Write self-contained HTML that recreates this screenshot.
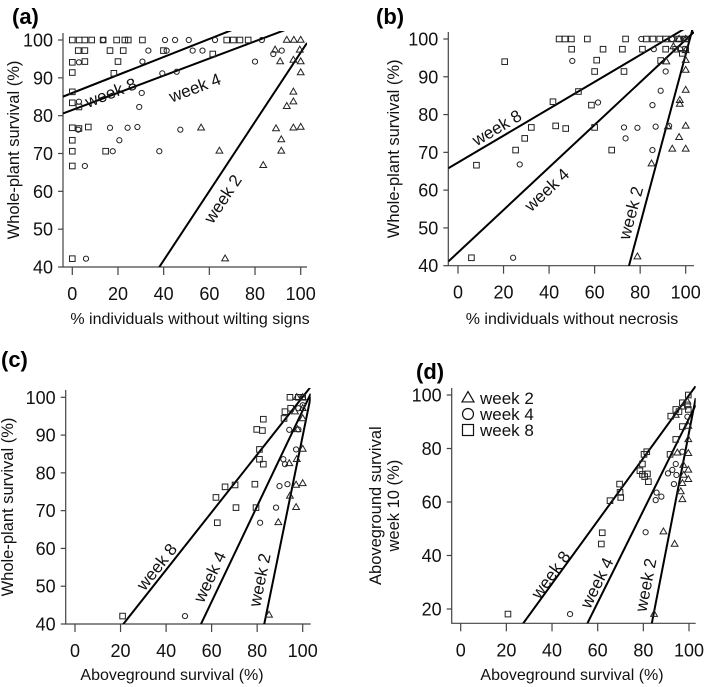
<!DOCTYPE html>
<html><head><meta charset="utf-8"><style>
html,body{margin:0;padding:0;background:#fff;overflow:hidden;}
svg{display:block;font-family:"Liberation Sans",Arial,sans-serif;}
</style></head><body>
<svg id="fig" width="709" height="687" viewBox="0 0 709 687" xmlns="http://www.w3.org/2000/svg"></svg>
<script>
// ---- data ----
const a_sq_x=[0,3,5.5,8.5,13.5,19.4,23,24.5,30.7,67.6,70.5,73.4,77,2.6,5.5,16.5,22.3,39.9,61.5,0,5.5,20,0,18.2,0,0,2.9,0,2.9,7,0,0,14.6,0,0];
const a_sq_y=[100,100,100,100,100,100,100,100,100,100,100,100,100,97.2,97.2,97.2,97.2,97.2,96.3,94.1,94.3,94.3,91.4,91.2,86.3,83.4,82.3,76.8,76.6,77,73.5,70.6,70.6,66.7,42.2];
const a_ci_x=[45,51,62.5,83,40.6,13.5,33.3,41.3,52.7,57,91.7,88,2.9,30.7,80,39.4,45.7,30.4,2.9,29.3,2.6,16.5,24.2,28.5,47.3,20.6,17.7,38.1,5.5,6];
const a_ci_y=[100,100,100,100,100,100,97.2,97.2,97.2,97.2,97.2,96.3,94.1,94.3,94.3,91.2,91.6,86,83.7,82.3,76.3,76.8,76.8,77,76.3,73.5,70.6,70.6,66.7,42.2];
const a_tr_x=[93.9,97,100,99.6,88.8,91,96.8,100,100,96.8,93.9,96.8,56.4,89.2,96.8,100,91.5,91.5,64.4,83.6,66.9];
const a_tr_y=[100,100,100,97.4,97.4,94.3,94.7,94.3,91.4,86.3,82.5,83.7,76.8,76.6,76.8,77,73.7,70.7,70.7,66.9,42.2];

const b_sq_x=[44.4,47,49.8,56.8,73.6,82.7,85.6,88.6,91.2,94.1,97.1,100,49.9,63.7,72.2,81,91.2,95.6,100,20.5,60.9,89,98.5,60,72.9,52.9,41.7,58.6,32.2,42.9,47.3,60,29.3,25.3,67.5,8.1,5.9];
const b_sq_y=[100,100,100,100,100,100,100,100,100,100,100,100,97.3,97.3,97.3,97.3,97.3,97.3,97.3,94,94.4,94.3,96.2,91.4,91.4,86.1,83.4,82.5,76.6,77,76.3,76.6,73.7,70.6,70.6,66.6,42.1];
const b_ci_x=[50.2,61.5,80.5,86,94,99,97.5,91.2,89,85.4,72.9,78.8,86.8,92.7,73.6,85.4,27.1,24.2];
const b_ci_y=[94.2,83.2,100,97.3,100,100,97.3,91.4,86.3,82.5,76.6,76.5,76.8,77,73.7,70.6,66.8,42.1];
const b_tr_x=[94.6,97.1,100,100,91.5,100,100,100,97.4,97.4,92.2,100,97.1,94.1,100,85,78.8];
const b_tr_y=[98,100,100,97,94,94.4,91.8,86.5,83.8,82.8,76.8,77,74,70.9,70.9,67,42.4];

const c_sq_x=[94.4,98.1,100,94.7,92.2,91.8,82.7,79.8,82.3,81,81,82.7,61.9,65.9,70.3,79,70.7,79.5,62.5,20.9];
const c_sq_y=[100,100,100,97.1,96.2,94.4,94.2,91.5,91.2,86.2,83.6,82.3,73.5,76.3,76.8,77,70.8,70.8,66.8,42.1];
const c_ci_x=[94.1,98.1,97.1,91.5,92.2,89.8,93.3,88.3,81.3,48.3,98.1,100];
const c_ci_y=[91.4,91.5,86.2,83.6,82.3,76.5,77,70.8,66.8,42.1,97.1,97.9];
const c_tr_x=[97.4,100,96.6,100,100,97.7,100,94.1,97.4,97.1,100,94.4,97.1,89.3,85.2];
const c_tr_y=[100,100,96.2,97.1,94.4,91.5,86.3,82.5,83.6,76.8,77.2,73.9,70.9,66.9,42.4];

const d_sq_x=[99.7,97.1,94.2,92,99.7,97.1,94.2,91.7,81.5,80.3,79.6,78.5,79.6,81.8,80.6,82.2,69.6,69.8,70.1,65.4,62,61.6,20.7,99.3,95.6];
const d_sq_y=[100,97.1,94.6,92.1,94.6,88.2,83.4,77.8,78.8,77.8,74.2,71.7,70.3,70.5,69.5,67.6,66.7,63.6,61.7,60.5,48.5,44.3,18.1,96.3,93.8];
const d_ci_x=[94.2,92.7,90.8,94.5,93.4,85.8,87.9,85.4,81,47.9,97.1,99.3];
const d_ci_y=[74.2,72,70.7,70.1,66.7,63.5,62,60.7,48.7,18.1,78.8,91.9];
const d_tr_x=[99.3,97.4,94.2,99.7,99.7,94.9,99.7,97.5,99.7,97.7,99.7,97.1,96.4,97.1,88.8,93.7,84.7];
const d_tr_y=[97.5,95.6,92.5,88.4,83.4,78.4,78.2,73.8,72,70.1,68.5,67,63.9,61,48.9,44.3,18.1];

// regression lines: intercept and slope for week 2, 4, 8
const a_fit_int=[5.1,81.5,86];   const a_fit_slope=[0.916,0.227,0.238];
const b_fit_int=[-128.6,43.5,67.3]; const b_fit_slope=[2.245,0.563,0.356];
const c_fit_int=[-205.2,-30,23.8]; const c_fit_slope=[2.95,1.265,0.763];
const d_fit_int=[-352,-80.8,-17.5]; const d_fit_slope=[4.38,1.72,1.174];

const xTicks=[0,20,40,60,80,100];
const yTicksABC=[40,50,60,70,80,90,100];
const yTicksD=[20,40,60,80,100];
const fitNames=['week 2','week 4','week 8'];

// ---- drawing ----
const NS='http://www.w3.org/2000/svg';
const svg=document.getElementById('fig');
function mk(tag,attrs,parent){const e=document.createElementNS(NS,tag);for(const k in attrs)e.setAttribute(k,attrs[k]);(parent||svg).appendChild(e);return e;}

const panels=[
 {id:'a',lab:'(a)',labX:12,labY:24,px0:72.3,px100:300.7,axL:63,axR:307,yv1:100,py1:40,yv2:40,py2:267,axT:33,axB:267,yt:yTicksABC,
  sq:[a_sq_x,a_sq_y],ci:[a_ci_x,a_ci_y],tr:[a_tr_x,a_tr_y],fi:a_fit_int,fs:a_fit_slope,
  xt:'% individuals without wilting signs',xtX:190,xtY:324,ytl:['Whole-plant survival (%)'],ytX:[14],
  fl:[[223,199],[195,88],[111,93]]},
 {id:'b',lab:'(b)',labX:376,labY:24,px0:458,px100:685.7,axL:448.3,axR:694,yv1:100,py1:39,yv2:40,py2:265.7,axT:32,axB:265.7,yt:yTicksABC,
  sq:[b_sq_x,b_sq_y],ci:[b_ci_x,b_ci_y],tr:[b_tr_x,b_tr_y],fi:b_fit_int,fs:b_fit_slope,
  xt:'% individuals without necrosis',xtX:572,xtY:324,ytl:['Whole-plant survival (%)'],ytX:[394],
  fl:[[631,213],[547,190],[497,128]]},
 {id:'c',lab:'(c)',labX:1,labY:367,px0:75,px100:302.7,axL:65.7,axR:310.7,yv1:100,py1:397.3,yv2:40,py2:624,axT:390,axB:624,yt:yTicksABC,
  sq:[c_sq_x,c_sq_y],ci:[c_ci_x,c_ci_y],tr:[c_tr_x,c_tr_y],fi:c_fit_int,fs:c_fit_slope,
  xt:'Aboveground survival (%)',xtX:172,xtY:680,ytl:['Whole-plant survival (%)'],ytX:[8],
  fl:[[260,580],[210,577],[157,567]]},
 {id:'d',lab:'(d)',labX:416,labY:379,px0:460.7,px100:689,axL:451.7,axR:695.7,yv1:100,py1:395,yv2:20,py2:609,axT:388,axB:623.3,yt:yTicksD,
  sq:[d_sq_x,d_sq_y],ci:[d_ci_x,d_ci_y],tr:[d_tr_x,d_tr_y],fi:d_fit_int,fs:d_fit_slope,
  xt:'Aboveground survival (%)',xtX:572,xtY:680,ytl:['Aboveground survival','week 10 (%)'],ytX:[376,394],
  fl:[[646,585],[597,583],[551,575]]}
];

panels.forEach(p=>{
  const sx=v=>p.px0+(v/100)*(p.px100-p.px0);
  const sy=v=>p.py1+(v-p.yv1)*(p.py2-p.py1)/(p.yv2-p.yv1);
  const ix=px=>(px-p.px0)/(p.px100-p.px0)*100;
  const g=mk('g',{});
  
  
  const t=mk('text',{x:p.labX,y:p.labY,'font-size':22,'font-weight':'bold'},g);t.textContent=p.lab;
  
  const ax=mk('path',{d:`M${p.axL},${p.axT}V${p.axB}H${p.axR}`,fill:'none',stroke:'#444','stroke-width':1.2},g);
  
  xTicks.forEach(v=>{
    const x=sx(v);
    mk('line',{x1:x,x2:x,y1:p.axB,y2:p.axB+8,stroke:'#444','stroke-width':1.2},g);
    const tt=mk('text',{x:x,y:p.axB+33,'font-size':18,'text-anchor':'middle',fill:'#111'},g);tt.textContent=v;
    
  });
  p.yt.forEach(v=>{
    const y=sy(v);
    mk('line',{x1:p.axL-5,x2:p.axL,y1:y,y2:y,stroke:'#444','stroke-width':1.2},g);
    const tt=mk('text',{x:p.axL-10,y:y+6.5,'font-size':18,'text-anchor':'end',fill:'#111'},g);tt.textContent=v;
    
  });
  const xt=mk('text',{x:p.xtX,y:p.xtY,'font-size':16,'text-anchor':'middle',fill:'#111'},g);xt.textContent=p.xt;
  
  const cy=(p.axT+p.axB)/2;
  p.ytl.forEach((s,i)=>{
    const yt=mk('text',{x:p.ytX[i],y:cy,'font-size':16.5,'text-anchor':'middle','dominant-baseline':'central',fill:'#111',transform:`rotate(-90 ${p.ytX[i]} ${cy})`},g);yt.textContent=s;
    
  });
  const cp=mk('clipPath',{id:'clip'+p.id},g);
  mk('rect',{x:p.axL,y:p.axT-2,width:p.axR-p.axL,height:p.axB-p.axT+2},cp);
  const x0=ix(p.axL),x1=ix(p.axR);
  p.fi.forEach((b,i)=>{
    const m=p.fs[i];
    const l=mk('line',{x1:sx(x0),y1:sy(b+m*x0),x2:sx(x1),y2:sy(b+m*x1),stroke:'#000','stroke-width':2,'clip-path':`url(#clip${p.id})`},g);
    
    
    const ang=-Math.atan(m*Math.abs(p.py2-p.py1)/Math.abs(p.yv2-p.yv1)/((p.px100-p.px0)/100))*180/Math.PI;
    const [lx,ly]=p.fl[i];
    const lt=mk('text',{x:lx,y:ly,'font-size':17,'text-anchor':'middle','dominant-baseline':'central',fill:'#111',transform:`rotate(${ang} ${lx} ${ly})`},g);
    lt.textContent=fitNames[i];
    
    
  });
  p.sq[0].forEach((v,i)=>{
    const r=mk('rect',{x:sx(v)-2.8,y:sy(p.sq[1][i])-2.8,width:5.6,height:5.6,fill:'none',stroke:'#222','stroke-width':1},g);
    
  });
  p.ci[0].forEach((v,i)=>{
    const c=mk('circle',{cx:sx(v),cy:sy(p.ci[1][i]),r:2.6,fill:'none',stroke:'#222','stroke-width':1},g);
    
  });
  p.tr[0].forEach((v,i)=>{
    const h=0.866*6.8,x=sx(v),y=sy(p.tr[1][i]);
    const tp=mk('path',{d:`M${x},${y-h*0.62}L${x+3.4},${y+h*0.38}L${x-3.4},${y+h*0.38}Z`,fill:'none',stroke:'#222','stroke-width':1},g);
    
  });
});

const lg=mk('g',{});


const ly=[398,414,430];
const h=0.866*12;
mk('path',{d:`M468,${ly[0]-h*0.62}L474,${ly[0]+h*0.38}L462,${ly[0]+h*0.38}Z`,fill:'none',stroke:'#111','stroke-width':1.2},lg);
mk('circle',{cx:468,cy:ly[1],r:5.5,fill:'none',stroke:'#111','stroke-width':1.2},lg);
mk('rect',{x:462.5,y:ly[2]-5.5,width:11,height:11,fill:'none',stroke:'#111','stroke-width':1.2},lg);
fitNames.forEach((s,i)=>{
  const t=mk('text',{x:480,y:ly[i]+6,'font-size':17,fill:'#111'},lg);t.textContent=s;
  
  
});
</script>
</body></html>
